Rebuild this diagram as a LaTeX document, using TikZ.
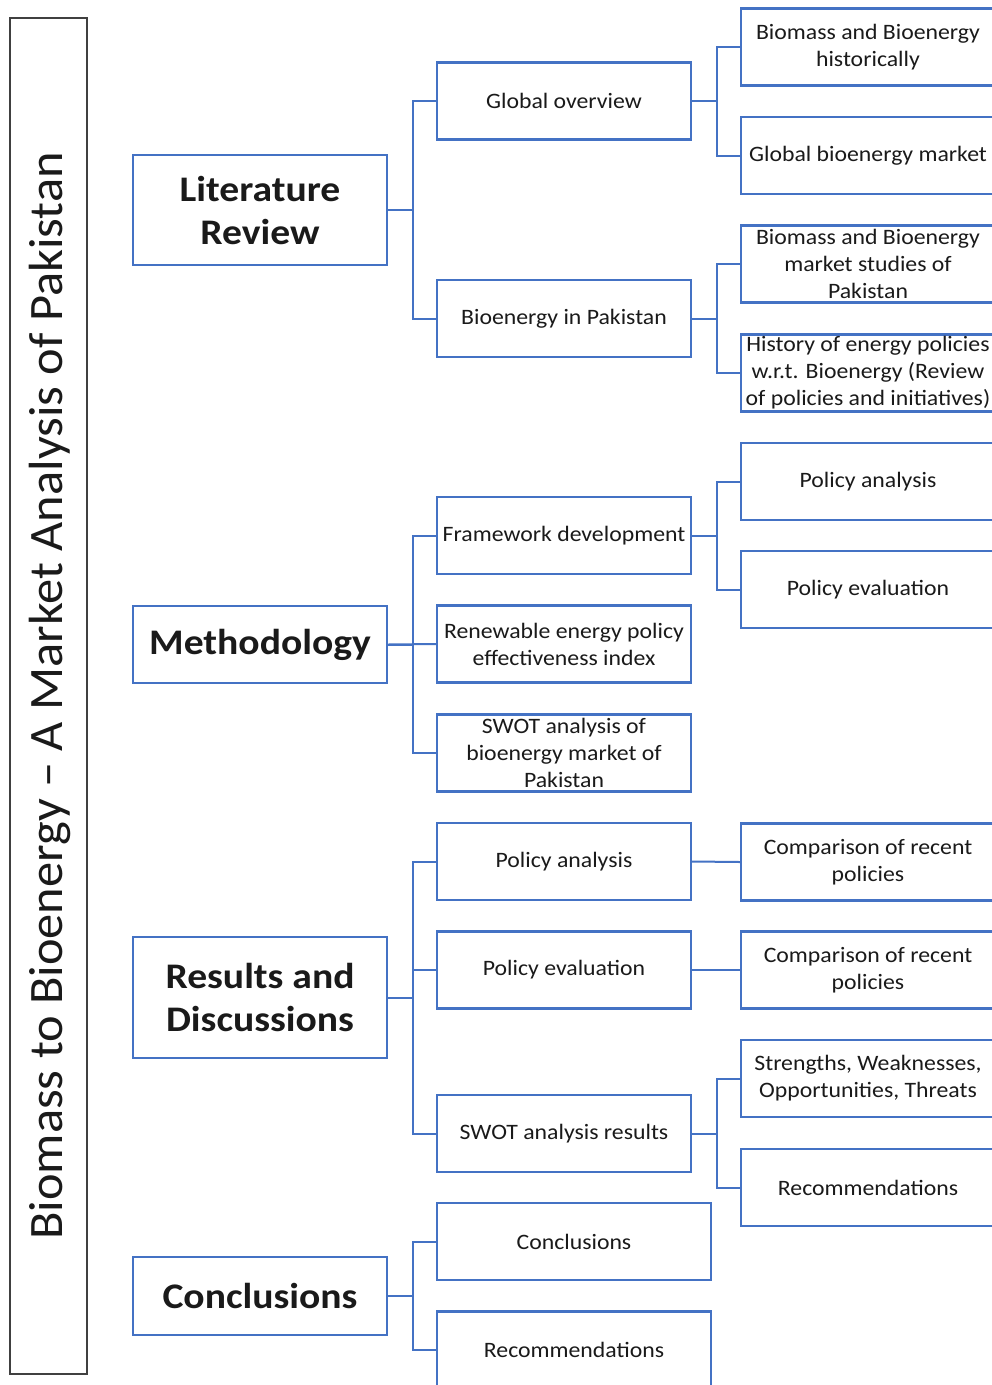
\documentclass[tikz,border=0pt]{standalone}
\usepackage{fontspec}
\setmainfont{Carlito}
\newfontfamily\wideA[FakeStretch=1.08]{Carlito}
\newfontfamily\wideB[FakeStretch=1.10]{Carlito}
\newfontfamily\wideT[FakeStretch=1.05]{Carlito}
\definecolor{bblue}{HTML}{4472C4}
\definecolor{tgray}{HTML}{1A1A1A}
\definecolor{fgray}{HTML}{404040}
\tikzset{
  lone/.style={draw=bblue,line width=2.2pt,minimum width=254pt,minimum height=110pt,align=center,font=\wideB\fontsize{36}{43}\selectfont\bfseries,text=tgray,inner sep=0pt},
  ltwo/.style={draw=bblue,line width=2.2pt,minimum width=254pt,minimum height=77pt,align=center,font=\wideA\fontsize{22}{27}\selectfont,text=tgray,inner sep=0pt},
  conn/.style={draw=bblue,line width=2pt},
}
\begin{document}
\begin{tikzpicture}[x=1pt,y=-1pt]
\useasboundingbox (0,0) rectangle (992,1385);
\clip (0,0) rectangle (992,1385);
\fill[white] (0,0) rectangle (992,1385);
% title
\node[draw=fgray,line width=2pt,minimum width=77pt,minimum height=1356pt,inner sep=0pt] (title) at (48.5,696) {};
\node[rotate=90,font=\wideT\fontsize{48}{52}\selectfont,text=tgray] (titletext) at (50,696) {Biomass to Bioenergy – A Market Analysis of Pakistan};
% level 1
\node[lone,minimum height=110pt] (lit) at (260,210) {Literature\\Review};
\node[lone,minimum height=77pt] (meth) at (260,644.5) {Methodology};
\node[lone,minimum height=121pt] (res) at (260,997.5) {Results and\\Discussions};
\node[lone,minimum height=78pt] (conc) at (260,1296) {Conclusions};
% level 2
\node[ltwo] (glob) at (564,101) {Global overview};
\node[ltwo] (bioPak) at (564,318.5) {Bioenergy in Pakistan};
\node[ltwo] (frame) at (564,535.5) {Framework development};
\node[ltwo] (renew) at (564,644) {Renewable energy policy\\effectiveness index};
\node[ltwo] (swot) at (564,753) {SWOT analysis of\\bioenergy market of\\Pakistan};
\node[ltwo] (pa) at (564,861.5) {Policy analysis};
\node[ltwo] (pe) at (564,970) {Policy evaluation};
\node[ltwo] (swotres) at (564,1133.5) {SWOT analysis results};
\node[ltwo,minimum width=274pt] (conc2) at (574,1241.5) {Conclusions};
\node[ltwo,minimum width=274pt] (rec2) at (574,1350) {Recommendations};
% level 3
\node[ltwo] (hist) at (868,47) {Biomass and Bioenergy\\historically};
\node[ltwo] (gmarket) at (868,155.5) {Global bioenergy market};
\node[ltwo] (mstud) at (868,264) {Biomass and Bioenergy\\market studies of\\Pakistan};
\node[ltwo] (histpol) at (868,373) {History of energy policies\\w.r.t. Bioenergy (Review\\of policies and initiatives)};
\node[ltwo] (pa3) at (868,481.5) {Policy analysis};
\node[ltwo] (pe3) at (868,589.5) {Policy evaluation};
\node[ltwo] (cmp1) at (868,862) {Comparison of recent\\policies};
\node[ltwo] (cmp2) at (868,970) {Comparison of recent\\policies};
\node[ltwo] (swotl) at (868,1078.5) {Strengths, Weaknesses,\\Opportunities, Threats};
\node[ltwo] (rec3) at (868,1187.5) {Recommendations};
% connectors level 1 -> 2
\draw[conn] (lit.east) -- ++(25,0) |- (glob.west);
\draw[conn] (lit.east) -- ++(25,0) |- (bioPak.west);
\draw[conn] (meth.east) -- ++(25,0) |- (frame.west);
\draw[conn] (meth.east) -- (renew.west);
\draw[conn] (meth.east) -- ++(25,0) |- (swot.west);
\draw[conn] (res.east) -- ++(25,0) |- (pa.west);
\draw[conn] (res.east) -- ++(25,0) |- (pe.west);
\draw[conn] (res.east) -- ++(25,0) |- (swotres.west);
\draw[conn] (conc.east) -- ++(25,0) |- (conc2.west);
\draw[conn] (conc.east) -- ++(25,0) |- (rec2.west);
% connectors level 2 -> 3
\draw[conn] (glob.east) -- ++(25,0) |- (hist.west);
\draw[conn] (glob.east) -- ++(25,0) |- (gmarket.west);
\draw[conn] (bioPak.east) -- ++(25,0) |- (mstud.west);
\draw[conn] (bioPak.east) -- ++(25,0) |- (histpol.west);
\draw[conn] (frame.east) -- ++(25,0) |- (pa3.west);
\draw[conn] (frame.east) -- ++(25,0) |- (pe3.west);
\draw[conn] (pa.east) -- (cmp1.west);
\draw[conn] (pe.east) -- (cmp2.west);
\draw[conn] (swotres.east) -- ++(25,0) |- (swotl.west);
\draw[conn] (swotres.east) -- ++(25,0) |- (rec3.west);
\end{tikzpicture}
\end{document}
